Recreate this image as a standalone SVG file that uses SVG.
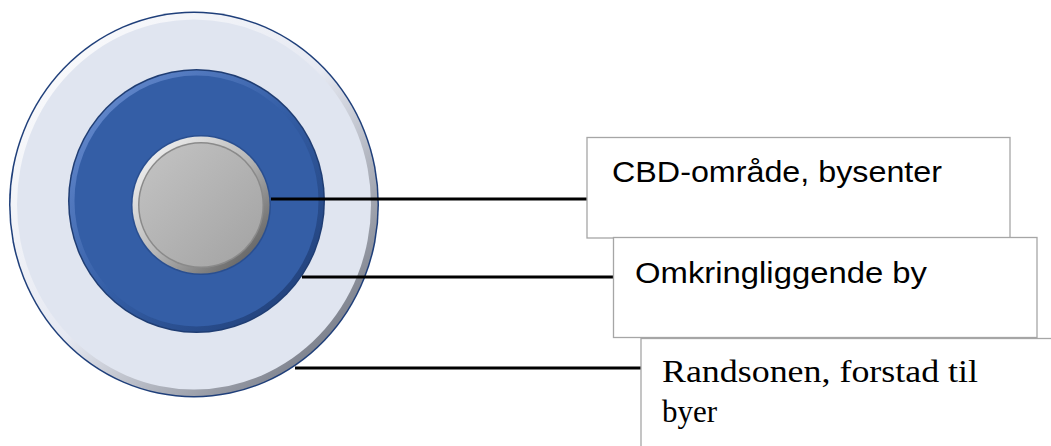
<svg xmlns="http://www.w3.org/2000/svg" width="1051" height="446" viewBox="0 0 1051 446">
<style>
.box{fill:#fff;stroke:#a6a6a6;stroke-width:1.3}
.conn{stroke:#000;stroke-width:3;fill:none}
.sans{font-family:"Liberation Sans",Arial,sans-serif;font-size:29px;fill:#000}
.serif{font-family:"Liberation Serif","Times New Roman",serif;font-size:31px;fill:#000}
</style>
<defs>
<linearGradient id="bevel" x1="0" y1="0" x2="1" y2="1">
<stop offset="0" stop-color="#ffffff"/>
<stop offset="0.5" stop-color="#e6e9f2"/>
<stop offset="1" stop-color="#555a66"/>
</linearGradient>
<linearGradient id="bevelBlue" x1="0" y1="0" x2="1" y2="1">
<stop offset="0" stop-color="#6f93d6"/>
<stop offset="0.5" stop-color="#345ea6"/>
<stop offset="1" stop-color="#1d3a70"/>
</linearGradient>
<linearGradient id="bevelGrey" x1="0" y1="0" x2="1" y2="1">
<stop offset="0" stop-color="#ffffff"/>
<stop offset="0.5" stop-color="#b8b8b8"/>
<stop offset="1" stop-color="#4a4a4a"/>
</linearGradient>
<linearGradient id="greyFill" x1="0" y1="0" x2="1" y2="1">
<stop offset="0" stop-color="#c4c4c4"/>
<stop offset="1" stop-color="#a2a2a2"/>
</linearGradient>
</defs>
<g id="rings">
<g id="outer-ring">
<ellipse cx="194" cy="204.5" rx="185" ry="193" fill="#1f3f7a"/>
<ellipse cx="194" cy="204.5" rx="183.5" ry="191.5" fill="url(#bevel)"/>
<ellipse cx="194" cy="204.5" rx="177" ry="185" fill="#e0e5f0"/>
</g>
<g id="middle-ring">
<ellipse cx="196.5" cy="201" rx="128.5" ry="132" fill="#1f3d73"/>
<ellipse cx="196.5" cy="201" rx="127" ry="130.5" fill="url(#bevelBlue)"/>
<ellipse cx="196.5" cy="201" rx="122" ry="125.5" fill="#345ea6"/>
</g>
<g id="center">
<circle cx="201" cy="205" r="70" fill="#2a4f90"/>
<circle cx="201" cy="205" r="68.5" fill="url(#bevelGrey)"/>
<circle cx="201" cy="205" r="63" fill="#8a8a8a"/>
<circle cx="201" cy="205" r="61.5" fill="url(#greyFill)"/>
</g>
</g>
<g id="connectors">
<line class="conn" x1="271" y1="199" x2="588" y2="199"/>
<line class="conn" x1="302" y1="277" x2="614" y2="277"/>
<line class="conn" x1="295" y1="368" x2="642" y2="368"/>
</g>
<g id="label-cbd">
<rect class="box" x="587" y="137.5" width="423" height="100.5"/>
<text class="sans" x="612" y="182" textLength="330" lengthAdjust="spacingAndGlyphs">CBD-område, bysenter</text>
</g>
<g id="label-omkring">
<rect class="box" x="613.5" y="237.5" width="423.5" height="100"/>
<text class="sans" x="635" y="283" textLength="292" lengthAdjust="spacingAndGlyphs">Omkringliggende by</text>
</g>
<g id="label-rand">
<rect class="box" x="641" y="338.5" width="430" height="120"/>
<text class="serif" x="662" y="382" textLength="316" lengthAdjust="spacingAndGlyphs">Randsonen, forstad til</text>
<text class="serif" x="662" y="422">byer</text>
</g>
</svg>
